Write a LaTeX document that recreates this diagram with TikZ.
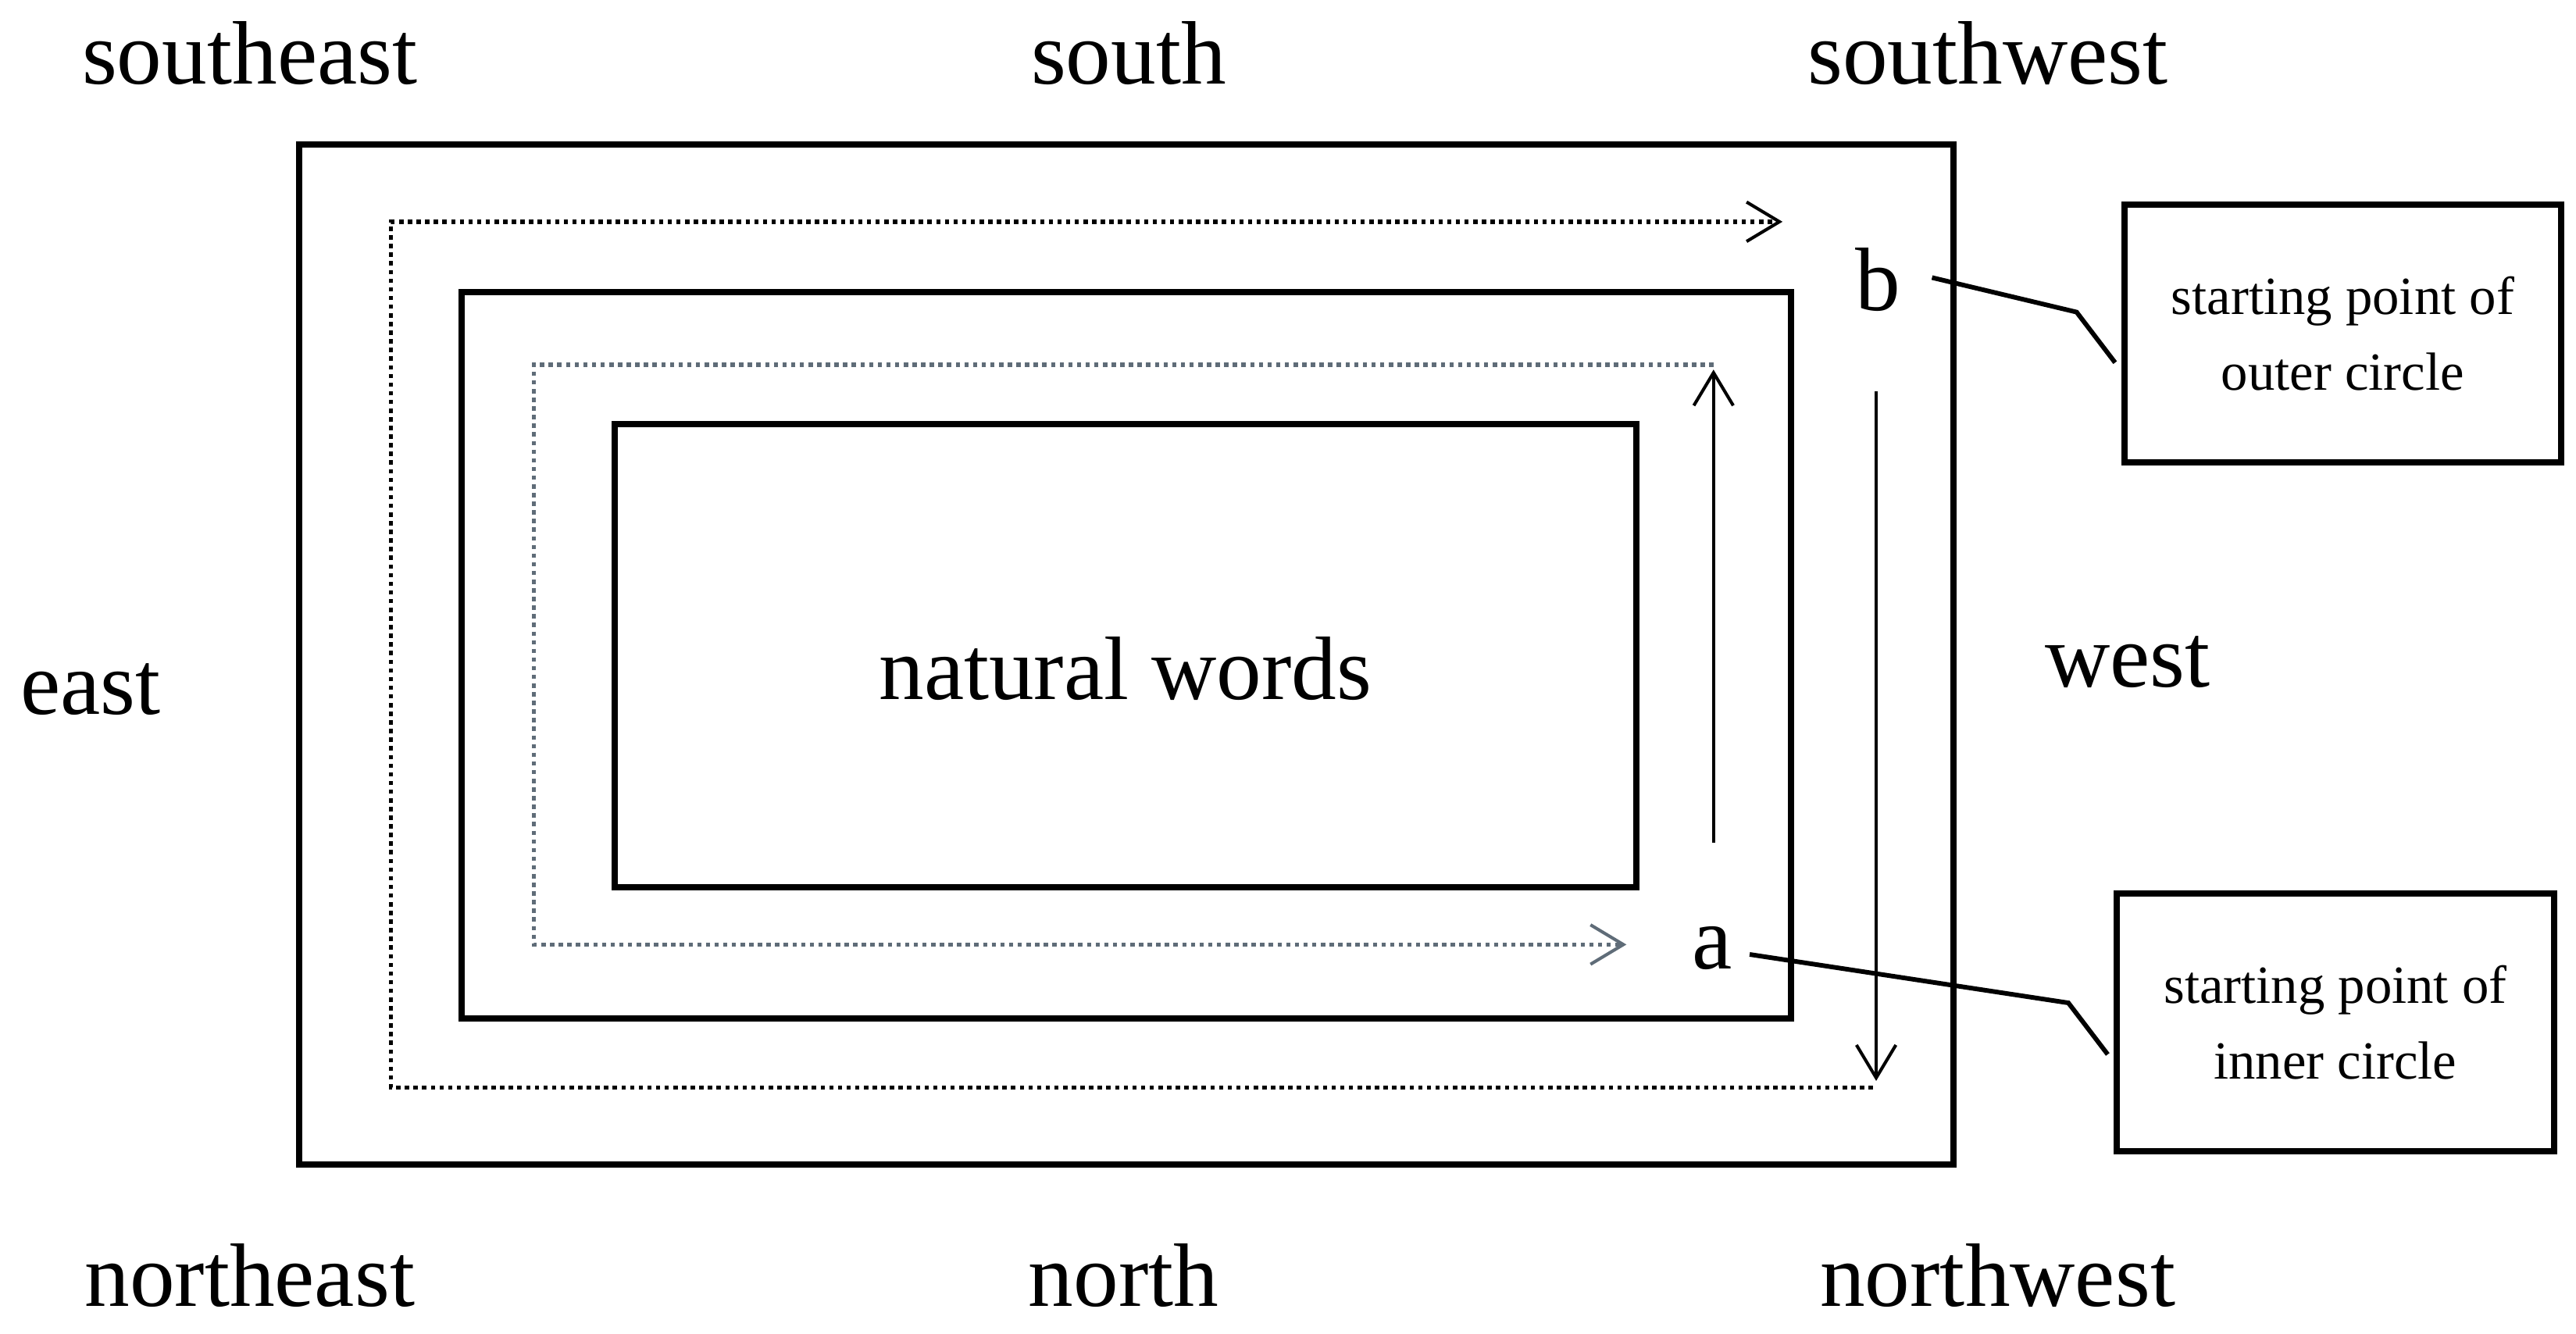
\documentclass[tikz,border=0pt]{standalone}
\usepackage{fontspec}
\setmainfont{Liberation Serif}
\usetikzlibrary{calc,arrows.meta}

\definecolor{innerdot}{RGB}{95,108,120}

\begin{document}
\begin{tikzpicture}[
		dir/.style={anchor=base,inner sep=0pt,font=\fontsize{15.6pt}{18pt}\selectfont},
		wall/.style={line width=1.1pt},
		note/.style={draw,line width=1.1pt,minimum width=2.66cm,minimum height=1.57cm,align=center,inner sep=2pt,font=\fontsize{9.3pt}{13.1pt}\selectfont},
		lead/.style={line width=0.8pt,shorten >=0.6mm},
		loop/.style={line width=0.75pt,dash pattern=on 0.75pt off 0.75pt,-{Straight Barb[length=2mm,width=2.4mm,line width=0.55pt]}},
		way/.style={line width=0.5pt,-{Straight Barb[length=2mm,width=2.4mm,line width=0.55pt]}}
	]
		\useasboundingbox (0,0) rectangle (15.68,8.12);
		% the three frames
		\draw[wall] (1.82,1.03) rectangle (11.89,7.24);
		\draw[wall] (2.81,1.92) rectangle (10.90,6.34);
		\draw[wall] (3.74,2.72) rectangle (9.96,5.54);
		\node[dir] (words) at (6.85,3.86) {natural words};
		% directions
		\node[dir] (se) at (1.52,7.61) {southeast};
		\node[dir] (s) at (6.87,7.61) {south};
		\node[dir] (sw) at (12.10,7.61) {southwest};
		\node[dir] (e) at (0.55,3.77) {east};
		\node[dir] (w) at (12.95,3.94) {west};
		\node[dir] (ne) at (1.52,0.17) {northeast};
		\node[dir] (n) at (6.84,0.17) {north};
		\node[dir] (nw) at (12.16,0.17) {northwest};
		% starting points
		\node[dir] (b) at (11.43,6.23) {b};
		\node[dir] (a) at (10.42,2.22) {a};
		\node[note] (outnote) at (14.26,6.09) {starting point of\\outer circle};
		\node[note] (innote) at (14.215,1.895) {starting point of\\inner circle};
		% outer circle
		\coordinate (o1) at (11.42,5.74);
		\coordinate (o2) at (11.42,1.54);
		\coordinate (o3) at (11.40,1.50);
		\coordinate (o4) at (2.38,1.50);
		\coordinate (o5) at (2.38,6.77);
		\coordinate (o6) at (10.85,6.77);
		\draw[way] (o1) -- (o2);
		\draw[loop] (o3) -- (o4) -- (o5) -- (o6);
		% inner circle
		\coordinate (i1) at (10.43,2.99);
		\coordinate (i2) at (10.43,5.87);
		\coordinate (i3) at (10.43,5.90);
		\coordinate (i4) at (3.25,5.90);
		\coordinate (i5) at (3.25,2.37);
		\coordinate (i6) at (9.90,2.37);
		\draw[way] (i1) -- (i2);
		\draw[loop,innerdot] (i3) -- (i4) -- (i5) -- (i6);
		% leaders
		\coordinate (bl) at (11.76,6.43);
		\coordinate (bk) at (12.64,6.22);
		\coordinate (al) at (10.65,2.31);
		\coordinate (ak) at (12.59,2.015);
		\draw[lead] (bl) -- (bk) -- ($(outnote.south west)!0.36!(outnote.north west)$);
		\draw[lead] (al) -- (ak) -- ($(innote.south west)!0.35!(innote.north west)$);
	\end{tikzpicture}
\end{document}
